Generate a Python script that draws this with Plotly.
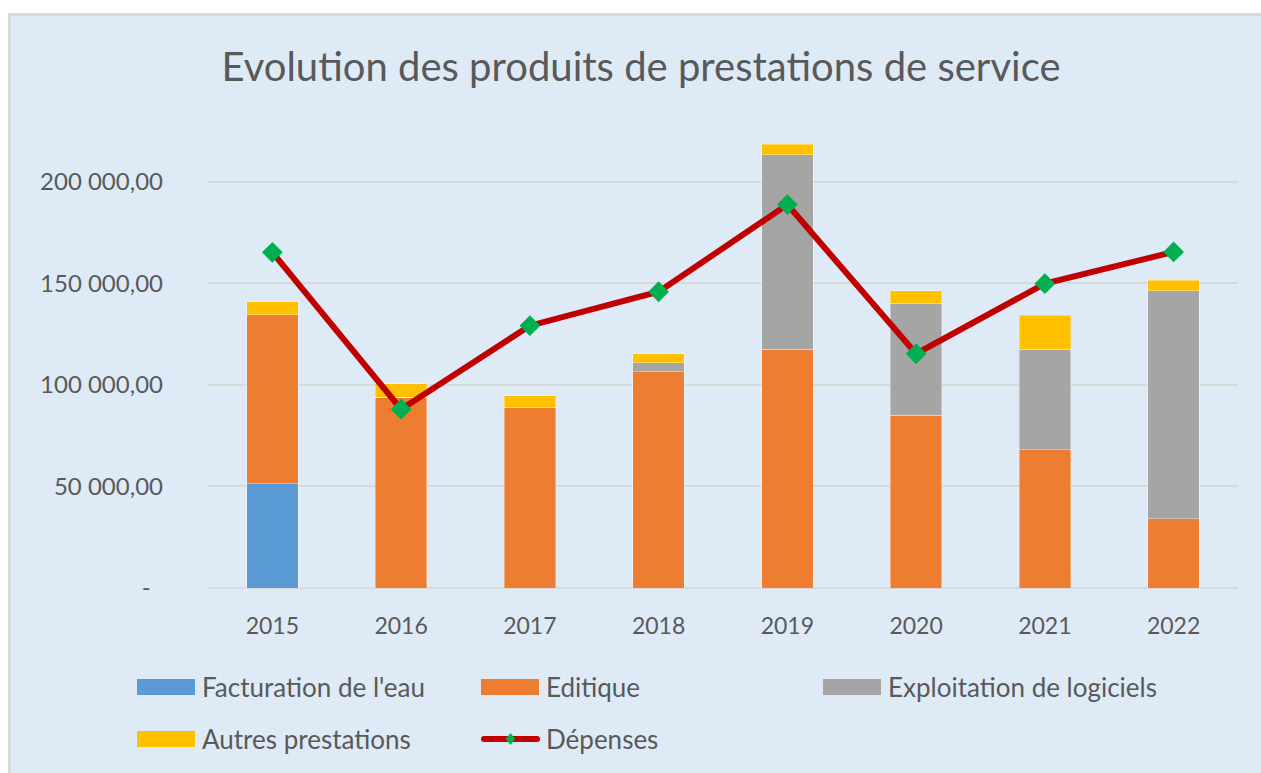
import plotly.graph_objects as go

# ---------------- data ----------------
years = ["2015", "2016", "2017", "2018", "2019", "2020", "2021", "2022"]
facturation_eau = [51200, 0, 0, 0, 0, 0, 0, 0]
editique = [83200, 94000, 88700, 106400, 117600, 85100, 68000, 34100]
exploitation_logiciels = [0, 0, 0, 4400, 95700, 55100, 49600, 112100]
autres_prestations = [6500, 6500, 5900, 4500, 5100, 6000, 16700, 5200]
depenses = [165200, 88000, 129100, 145800, 188700, 115300, 149800, 165400]

y_tick_values = [0, 50000, 100000, 150000, 200000]
y_tick_labels = ["-\u00a0\u00a0", "50 000,00", "100 000,00", "150 000,00", "200 000,00"]

bar_names = ["Facturation de l'eau", "Editique", "Exploitation de logiciels", "Autres prestations"]
bar_series = [facturation_eau, editique, exploitation_logiciels, autres_prestations]
bar_colors = ["#5B9BD5", "#ED7D31", "#A5A5A5", "#FFC000"]
line_name = "Dépenses"
line_color = "#C00000"
marker_color = "#00B050"

# ---------------- layout constants (pixels) ----------------
W, H = 1261, 773
PL, PR, PT, PB = 208, 1238, 141, 588  # plot area
FONT = "Lato"
TXT = "#595959"


def px2x(px):
    return (px - PL) / (PR - PL)


def py2y(py):
    return (PB - py) / (PB - PT)


fig = go.Figure()
for name, vals, col in zip(bar_names, bar_series, bar_colors):
    fig.add_trace(go.Bar(
        x=years, y=vals, name=name,
        marker=dict(color=col, line=dict(width=0.6, color="rgba(255,255,255,0.6)")),
        showlegend=False,
    ))

fig.add_trace(go.Scatter(
    x=years, y=depenses, name=line_name, mode="lines+markers",
    line=dict(color=line_color, width=6),
    marker=dict(symbol="diamond", size=16, color=marker_color),
    showlegend=False,
))

shapes = []
annotations = []

# chart frame (light blue area with grey border)
shapes.append(dict(
    type="rect", xref="paper", yref="paper", layer="below",
    x0=px2x(9.5), x1=px2x(1275), y0=py2y(790), y1=py2y(14.5),
    fillcolor="#DEEBF7", line=dict(color="#D9D9D9", width=3),
))

# custom legend
legend_items = [
    ("bar", bar_names[0], bar_colors[0]),
    ("bar", bar_names[1], bar_colors[1]),
    ("bar", bar_names[2], bar_colors[2]),
    ("bar", bar_names[3], bar_colors[3]),
    ("line", line_name, line_color),
]
col_x = [137, 481, 823]
row_y = [687, 739]
for i, (kind, name, col) in enumerate(legend_items):
    cx = col_x[i % 3]
    cy = row_y[i // 3]
    if kind == "bar":
        shapes.append(dict(
            type="rect", xref="paper", yref="paper",
            x0=px2x(cx), x1=px2x(cx + 58), y0=py2y(cy + 8), y1=py2y(cy - 8),
            fillcolor=col, line=dict(width=0),
        ))
    else:
        # rounded-cap line swatch
        shapes.append(dict(
            type="line", xref="paper", yref="paper",
            x0=px2x(cx + 3), x1=px2x(cx + 56), y0=py2y(cy), y1=py2y(cy),
            line=dict(color=col, width=6),
        ))
        for ex in (cx + 3, cx + 56):
            shapes.append(dict(
                type="circle", xref="paper", yref="paper",
                x0=px2x(ex - 3), x1=px2x(ex + 3), y0=py2y(cy + 3), y1=py2y(cy - 3),
                fillcolor=col, line=dict(width=0),
            ))
        d = 6
        mx = cx + 29.5
        path = "M {} {} L {} {} L {} {} L {} {} Z".format(
            px2x(mx), py2y(cy - d), px2x(mx + d * 0.8), py2y(cy),
            px2x(mx), py2y(cy + d), px2x(mx - d * 0.8), py2y(cy))
        shapes.append(dict(
            type="path", xref="paper", yref="paper", path=path,
            fillcolor=marker_color, line=dict(width=0),
        ))
    annotations.append(dict(
        xref="paper", yref="paper", x=px2x(cx + 63), y=py2y(cy),
        xanchor="left", yanchor="middle", showarrow=False, text=name,
        font=dict(family=FONT, size=26, color=TXT),
    ))

fig.update_layout(
    width=W, height=H,
    margin=dict(l=PL, r=W - PR, t=PT, b=H - PB, pad=0),
    barmode="stack", bargap=0.6,
    paper_bgcolor="white", plot_bgcolor="rgba(0,0,0,0)",
    font=dict(family=FONT, size=23, color=TXT),
    title=dict(
        text="Evolution des produits de prestations de service",
        x=641 / W, xref="container", xanchor="center",
        y=1 - 67 / H, yref="container", yanchor="middle",
        font=dict(family=FONT, size=40, color=TXT),
    ),
    xaxis=dict(
        type="category", range=[-0.5, 7.5], showgrid=False, zeroline=False,
        showline=False, ticks="", ticklabelstandoff=22,
        tickfont=dict(family=FONT, size=23, color=TXT), fixedrange=True,
    ),
    yaxis=dict(
        range=[0, 220000], tickvals=y_tick_values, ticktext=y_tick_labels,
        showgrid=True, gridcolor="#D9D9D9", gridwidth=2,
        zeroline=True, zerolinecolor="#D9D9D9", zerolinewidth=2,
        showline=False, ticks="", ticklabelstandoff=44,
        tickfont=dict(family=FONT, size=24, color=TXT), fixedrange=True,
    ),
    shapes=shapes,
    annotations=annotations,
    showlegend=False,
)

fig.write_html(
    "out.html",
    config={"displayModeBar": False},
    post_script="document.body.style.margin='0';document.body.style.overflow='hidden';",
)
